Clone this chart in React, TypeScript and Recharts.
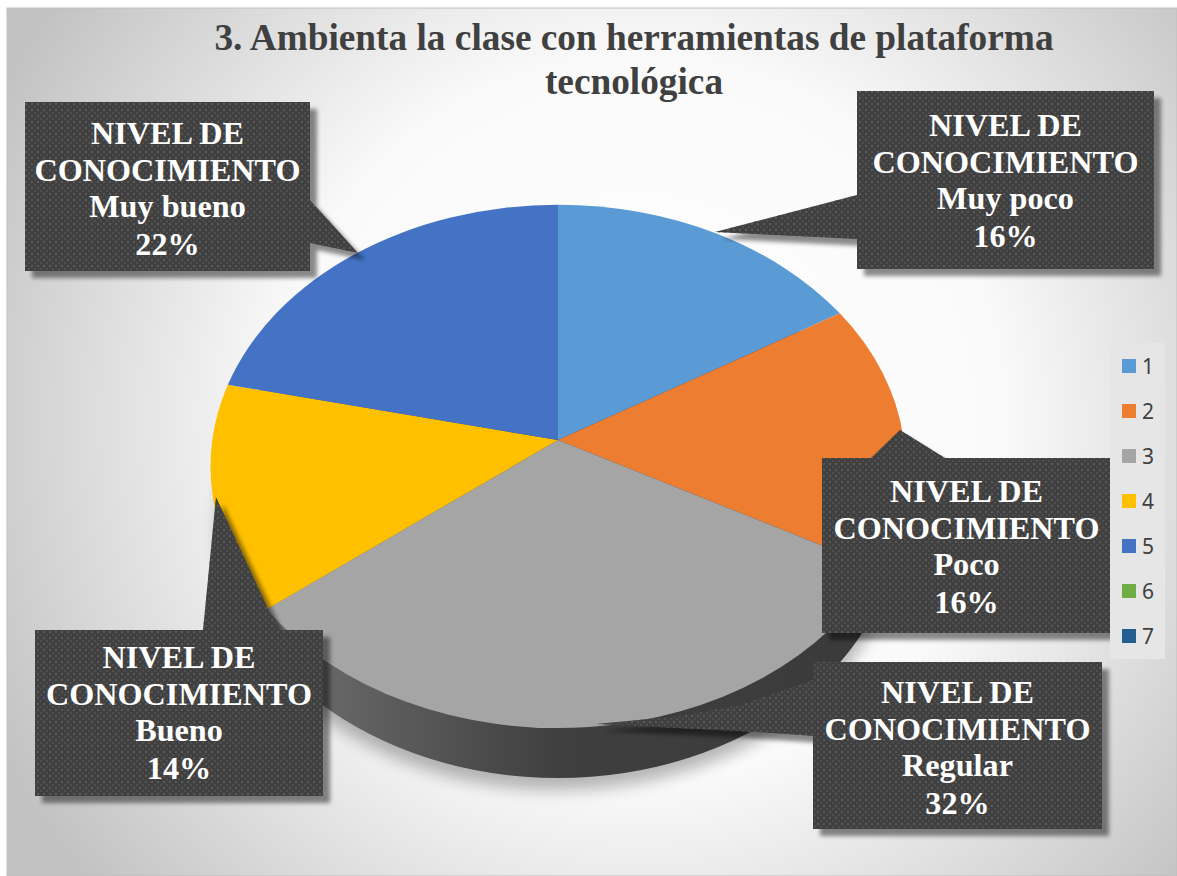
import React from "react";
import { PieChart, Pie, Cell, Legend } from "recharts";

const categories = ["1", "2", "3", "4", "5", "6", "7"];
const values = [16.4, 16.4, 31.7, 14.0, 21.5, 0, 0];
const levels = ["Muy poco", "Poco", "Regular", "Bueno", "Muy bueno", "", ""];
const colors = ["#5B9BD5", "#ED7D31", "#A5A5A5", "#FFC000", "#4472C4", "#70AD47", "#255E91"];
const titleLines = ["3. Ambienta la clase con herramientas de plataforma", "tecnológica"];
const data = categories.map((name, i) => ({ name, value: values[i], level: levels[i] }));

// Layout of the callout boxes: x, y, w, h, pointer polygon, first baseline
const boxes = [
  { x: 857, y: 91, w: 297, h: 178, ptr: "857,195 715,232 857,239", base: 136 },
  { x: 822, y: 458, w: 289, h: 175, ptr: "871,458 900,430 945,458", base: 502 },
  { x: 813, y: 662, w: 289, h: 167, ptr: "813,680 740,705 680,716 596,724 740,731 813,736", base: 703 },
  { x: 35, y: 630, w: 288, h: 166, ptr: "203,630 216,497 278,630", base: 668 },
  { x: 25, y: 102, w: 285, h: 169, ptr: "310,200 358,253 310,243", base: 144 },
];

const TILT = 0.101;
const ASPECT = 1.335;

function project(cx: number, cy: number, r: number, angleDeg: number) {
  const a = ((90 - angleDeg) * Math.PI) / 180;
  const w = 1 + TILT * Math.cos(a);
  return {
    x: cx + (r * ASPECT * Math.sin(a)) / w,
    y: cy - (r * Math.cos(a)) / w,
  };
}

function TiltedSector(props: any) {
  const { cx, cy, outerRadius, startAngle, endAngle, fill } = props;
  if (Math.abs(startAngle - endAngle) < 0.01) return null;
  const p0 = project(cx, cy, outerRadius, startAngle);
  const p1 = project(cx, cy, outerRadius, endAngle);
  const k = 1 - TILT * TILT;
  const rx = (outerRadius * ASPECT) / Math.sqrt(k);
  const ry = outerRadius / k;
  const large = Math.abs(startAngle - endAngle) > 180 ? 1 : 0;
  return (
    <path
      d={`M${cx},${cy} L${p0.x},${p0.y} A${rx},${ry} 0 ${large} 1 ${p1.x},${p1.y} Z`}
      fill={fill}
    />
  );
}

function Callout(props: any) {
  const { index, value, percent, payload } = props;
  const b = boxes[index];
  if (!b || !value) return null;
  const lines = ["NIVEL DE", "CONOCIMIENTO", payload.level, `${Math.round(percent * 100)}%`];
  const steps = [0, 37, 73, 111];
  const mid = b.x + b.w / 2;
  return (
    <g>
      <g filter="url(#boxShadow)">
        <polygon points={b.ptr} fill="#3F3F3F" />
        <rect x={b.x} y={b.y} width={b.w} height={b.h} fill="#3F3F3F" />
      </g>
      <polygon points={b.ptr} fill="url(#dots)" />
      <rect x={b.x} y={b.y} width={b.w} height={b.h} fill="url(#dots)" />
      {lines.map((t, i) => (
        <text
          key={i}
          x={mid}
          y={b.base + steps[i]}
          textAnchor="middle"
          fontFamily="'Liberation Serif', serif"
          fontWeight="bold"
          fontSize={32.2}
          fill="#FFFFFF"
        >
          {t}
        </text>
      ))}
    </g>
  );
}

function LegendBox(props: any) {
  return (
    <div style={{ width: 55, height: 316, background: "#E6E6E6", position: "relative" }}>
      {(props.payload || []).map((item: any, i: number) => (
        <div key={i} style={{ position: "absolute", left: 12, top: 15 + i * 45, height: 16, display: "flex", alignItems: "center" }}>
          <span style={{ width: 14, height: 14, background: item.color, display: "inline-block", marginRight: 6 }} />
          <span style={{ fontFamily: "'Noto Sans', sans-serif", fontSize: 21, color: "#404040", lineHeight: "16px" }}>
            {item.value}
          </span>
        </div>
      ))}
    </div>
  );
}

export default function App() {
  return (
    <div style={{ position: "absolute", left: 0, top: 0, width: 1177, height: 876, background: "#fff" }}>
      <PieChart width={1177} height={876} margin={{ top: 0, right: 0, bottom: 0, left: 0 }}>
        <defs>
          <radialGradient id="plate" gradientUnits="userSpaceOnUse" cx={640} cy={420} r={720}>
            <stop offset="0" stopColor="#FFFFFF" />
            <stop offset="0.5" stopColor="#FAFAFA" />
            <stop offset="1" stopColor="#C2C2C2" />
          </radialGradient>
          <linearGradient id="rim" x1="0" y1="0" x2="1" y2="0">
            <stop offset="0.1" stopColor="#6E6E6E" />
            <stop offset="0.5" stopColor="#3F3F3F" />
            <stop offset="1" stopColor="#3A3A3A" />
          </linearGradient>
          <pattern id="dots" width="6" height="6" patternUnits="userSpaceOnUse">
            <rect x="1" y="1" width="2" height="2" fill="#5A5A5A" />
            <rect x="4" y="4" width="2" height="2" fill="#4E4E4E" />
          </pattern>
          <filter id="boxShadow" x="-10%" y="-10%" width="125%" height="125%">
            <feDropShadow dx="7" dy="7" stdDeviation="2" floodColor="#000" floodOpacity="0.45" />
          </filter>
          <filter id="soft" x="-10%" y="-10%" width="120%" height="120%">
            <feGaussianBlur stdDeviation="8" />
          </filter>
        </defs>
        <rect x={7} y={8} width={1170} height={868} fill="url(#plate)" stroke="#BFBFBF" />
        {titleLines.map((t, i) => (
          <text
            key={t}
            x={634}
            y={50 + i * 44}
            textAnchor="middle"
            fontFamily="'Liberation Serif', serif"
            fontWeight="bold"
            fontSize={37.3}
            fill="#404040"
          >
            {t}
          </text>
        ))}
        <ellipse cx={558} cy={528} rx={340} ry={262} fill="#000" opacity={0.28} filter="url(#soft)" />
        <ellipse cx={558} cy={516} rx={340} ry={262} fill="url(#rim)" />
        <Pie
          data={data}
          dataKey="value"
          nameKey="name"
          cx={558}
          cy={440}
          outerRadius={259}
          startAngle={90}
          endAngle={-270}
          stroke="none"
          shape={TiltedSector}
          label={Callout}
          labelLine={false}
          isAnimationActive={false}
        >
          {categories.map((c, i) => (
            <Cell key={c} fill={colors[i]} />
          ))}
        </Pie>
        <Legend
          layout="vertical"
          align="right"
          verticalAlign="top"
          content={LegendBox}
          wrapperStyle={{ left: 1110, top: 343, width: 55, height: 316 }}
        />
      </PieChart>
    </div>
  );
}
